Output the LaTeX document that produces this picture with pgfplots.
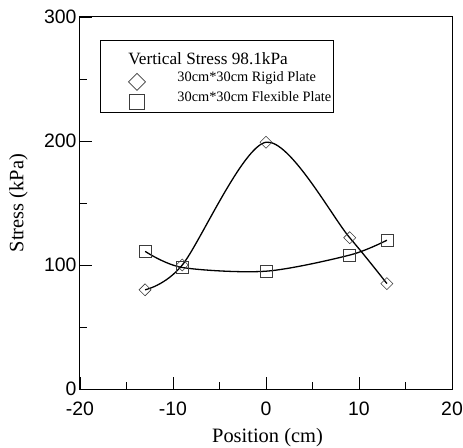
\documentclass[border=0pt]{standalone}
\usepackage{fontspec}
\setmainfont{Liberation Serif}
\newfontfamily\arial{Liberation Sans}
\usepackage{pgfplots}
\pgfplotsset{compat=1.18}
\definecolor{markgray}{RGB}{60,60,60}
\begin{document}
\begin{tikzpicture}
\begin{axis}[
  at={(0,0)}, anchor=south west,
  scale only axis, width=372bp, height=372bp,
  xmin=-20, xmax=20, ymin=0, ymax=300,
  xtick={-20,-10,0,10,20}, ytick={0,100,200,300},
  minor xtick={-15,-5,5,15}, minor ytick={50,150,250},
  tick pos=left, tick align=inside,
  major tick length=12bp, minor tick length=7bp,
  every tick/.style={black, line width=0.8bp},
  axis line style={line width=1bp},
  ticklabel style={font=\arial\fontsize{19.5}{23}\selectfont},
  xticklabel style={anchor=base, yshift=-26bp},
  yticklabel style={anchor=east},
  /pgf/number format/assume math mode=true,
  xlabel={Position (cm)}, ylabel={Stress (kPa)},
  label style={font=\fontsize{20.5}{24}\selectfont},
  xlabel style={at={(axis description cs:0.504,-0.1425)}, anchor=base},
  ylabel style={at={(axis description cs:-0.1519,0.5)}, anchor=base},
  legend style={at={(axis description cs:0.0538,0.9382)}, anchor=north west,
    draw=black, line width=0.8bp, fill=white, inner xsep=2bp, inner ysep=4bp,
    font=\fontsize{14.4}{16}\selectfont, column sep=32bp, row sep=6bp,
    cells={anchor=base west},
    nodes={inner sep=0pt, text height=10bp, text depth=4bp}},
  legend image code/.code={%
    \path[draw=none, fill=none] (0bp,0bp) -- (43bp,0bp);
    \draw[overlay] plot coordinates {(34.5bp,0bp)};},
]
\addlegendimage{empty legend}
\addlegendentry[text height=20bp, text depth=1.5bp]{\hspace*{-49bp}\fontsize{17.3}{20}\selectfont Vertical Stress 98.1kPa}
\addlegendimage{only marks, mark=square, mark size=6bp, mark options={rotate=45, draw=markgray, line width=0.7bp, fill=white}}
\addlegendentry{30cm*30cm Rigid Plate}
\addlegendimage{only marks, mark=square, mark size=7.5bp, mark options={draw=markgray, line width=0.7bp, fill=white}}
\addlegendentry[text depth=7bp]{30cm*30cm Flexible Plate}

% rigid plate
\addplot[forget plot, black, line width=1.3bp, smooth] coordinates {(-13,80) (-9,100) (0,199) (9,122) (13,85)};
\addplot[forget plot, only marks, mark=square, mark size=4.25bp, mark options={rotate=45, draw=markgray, line width=0.6bp}] coordinates {(-13,80) (-9,100) (0,199) (9,122) (13,85)};
% flexible plate
\addplot[forget plot, black, line width=1.3bp, smooth] coordinates {(-13,111) (-9,98) (0,95) (9,108) (13,120)};
\addplot[forget plot, only marks, mark=square, mark size=6bp, mark options={draw=markgray, line width=0.6bp}] coordinates {(-13,111) (-9,98) (0,95) (9,108) (13,120)};
\end{axis}
\pgfresetboundingbox
\path (-80bp,-59bp) rectangle (383bp,389bp);
\end{tikzpicture}
\end{document}
